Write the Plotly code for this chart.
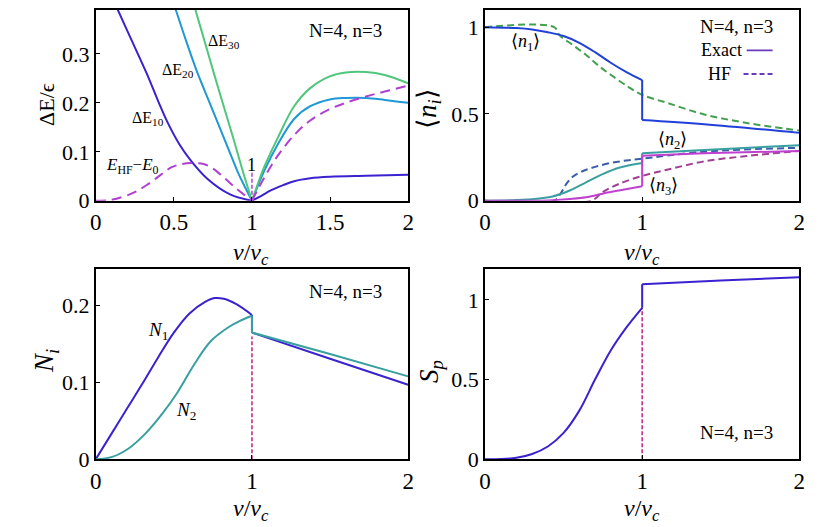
import plotly.graph_objects as go
from plotly.subplots import make_subplots

# ---- panel (a): excitation gaps ----
de10_x_l = [0.10, 0.138, 0.232, 0.326, 0.40, 0.458, 0.536, 0.609, 0.714, 0.86, 1.0]
de10_y_l = [0.419, 0.392, 0.326, 0.260, 0.203, 0.161, 0.115, 0.082, 0.045, 0.013, 0.0]
de10_x_r = [1.0, 1.06, 1.12, 1.2, 1.27, 1.373, 1.5, 1.73, 2.0]
de10_y_r = [0.0, 0.010, 0.021, 0.032, 0.040, 0.046, 0.049, 0.051, 0.053]

de20_x_l = [0.48, 0.51, 0.58, 0.65, 0.72, 0.78, 0.85, 0.91, 0.96, 1.0]
de20_y_l = [0.42, 0.392, 0.325, 0.262, 0.207, 0.160, 0.105, 0.058, 0.025, 0.0]
de20_x_r = [1.0, 1.08, 1.163, 1.27, 1.373, 1.498, 1.6, 1.73, 1.85, 2.0]
de20_y_r = [0.0, 0.062, 0.114, 0.167, 0.193, 0.207, 0.210, 0.210, 0.206, 0.200]

de30_x_l = [0.61, 0.636, 0.70, 0.76, 0.82, 0.88, 0.94, 1.0]
de30_y_l = [0.42, 0.392, 0.322, 0.256, 0.192, 0.128, 0.062, 0.0]
de30_x_r = [1.0, 1.08, 1.163, 1.27, 1.373, 1.498, 1.6, 1.73, 1.85, 2.0]
de30_y_r = [0.0, 0.070, 0.127, 0.193, 0.230, 0.254, 0.262, 0.263, 0.257, 0.240]

hf_x_l = [0.0, 0.1, 0.232, 0.33, 0.42, 0.483, 0.55, 0.61, 0.69, 0.75, 0.818, 0.9, 1.0]
hf_y_l = [0.0, 0.002, 0.015, 0.033, 0.054, 0.068, 0.075, 0.077, 0.075, 0.066, 0.048, 0.025, 0.0]
hf_x_r = [1.0, 1.08, 1.163, 1.27, 1.373, 1.498, 1.6, 1.73, 1.85, 2.0]
hf_y_r = [0.0, 0.048, 0.091, 0.134, 0.164, 0.187, 0.200, 0.213, 0.223, 0.235]
hf_mark_y = [0.0, 0.058]

# ---- panel (b): occupations ----
n1_x_l = [0.0, 0.2, 0.3, 0.4, 0.5, 0.6, 0.7, 0.8, 0.9, 1.0]
n1_y_l = [1.0, 0.995, 0.987, 0.971, 0.949, 0.910, 0.856, 0.795, 0.741, 0.695]
n1_x_r = [1.0, 1.395, 2.0]
n1_y_r = [0.465, 0.441, 0.391]
n1hf_x = [0.0, 0.44, 0.475, 0.559, 0.642, 0.725, 0.809, 0.913, 1.0, 1.165, 1.395, 1.666, 2.0]
n1hf_y = [1.0, 1.0, 0.953, 0.897, 0.841, 0.776, 0.720, 0.655, 0.610, 0.562, 0.497, 0.448, 0.404]

n2_x_l = [0.0, 0.2, 0.33, 0.43, 0.539, 0.643, 0.748, 0.852, 1.0]
n2_y_l = [0.0, 0.004, 0.012, 0.025, 0.059, 0.106, 0.153, 0.190, 0.218]
n2_x_r = [1.0, 1.395, 2.0]
n2_y_r = [0.274, 0.292, 0.320]
n2hf_x = [0.0, 0.44, 0.48, 0.52, 0.56, 0.62, 0.70, 0.80, 0.90, 1.0, 1.395, 2.0]
n2hf_y = [0.0, 0.0, 0.04, 0.10, 0.14, 0.17, 0.195, 0.218, 0.232, 0.242, 0.283, 0.305]

n3_x_l = [0.0, 0.4, 0.539, 0.643, 0.748, 0.852, 1.0]
n3_y_l = [0.0, 0.002, 0.010, 0.020, 0.041, 0.059, 0.084]
n3_x_r = [1.0, 1.395, 2.0]
n3_y_r = [0.260, 0.273, 0.287]
n3hf_x = [0.0, 0.675, 0.748, 0.852, 1.0, 1.165, 1.395, 1.666, 2.0]
n3hf_y = [0.0, 0.0, 0.050, 0.097, 0.143, 0.180, 0.227, 0.258, 0.287]

# ---- panel (c): N_i ----
N1_x_l = [0.0, 0.1, 0.2, 0.3, 0.4, 0.5, 0.6, 0.7, 0.76, 0.82, 0.9, 1.0]
N1_y_l = [0.0, 0.033, 0.066, 0.099, 0.133, 0.165, 0.190, 0.205, 0.210, 0.209, 0.202, 0.188]
N1_x_r = [1.0, 1.5, 2.0]
N1_y_r = [0.165, 0.131, 0.097]
N2_x_l = [0.0, 0.105, 0.21, 0.316, 0.421, 0.526, 0.632, 0.737, 0.842, 0.92, 1.0]
N2_y_l = [0.0, 0.003, 0.014, 0.033, 0.058, 0.088, 0.124, 0.154, 0.171, 0.180, 0.187]
N2_x_r = [1.0, 1.5, 2.0]
N2_y_r = [0.165, 0.137, 0.108]
N_mark_y = [0.0, 0.16]

# ---- panel (d): S_p ----
sp_x_l = [0.0, 0.1, 0.2, 0.3, 0.4, 0.5, 0.6, 0.7, 0.8, 0.9, 1.0]
sp_y_l = [0.0, 0.001, 0.009, 0.033, 0.080, 0.165, 0.305, 0.500, 0.683, 0.828, 0.951]
sp_x_r = [1.0, 1.5, 2.0]
sp_y_r = [1.098, 1.122, 1.143]
sp_mark_y = [0.0, 0.951]

crit_x = [1.0, 1.0]

C_E10 = '#3a22d0'
C_E20 = '#1f98d6'
C_E30 = '#4fc67c'
C_HF = '#b040d4'
C_N1 = '#2040d8'
C_N1HF = '#44a050'
C_N2 = '#3a9fa0'
C_N2HF = '#3a5fa8'
C_N3 = '#c040d0'
C_N3HF = '#a04095'
C_MARK = '#c02080'
C_LEG = '#6a3cbc'

fig = make_subplots(rows=2, cols=2)


def curve(x, y, color, row, col, dash='solid', shape='spline', width=2):
    fig.add_trace(go.Scatter(x=x, y=y, mode='lines', showlegend=False,
                             line=dict(color=color, width=width, dash=dash,
                                       shape=shape, smoothing=1.0)),
                  row=row, col=col)


def jump_curve(xl, yl, xr, yr, color, row, col):
    curve(xl, yl, color, row, col)
    curve([xl[-1], xr[0]], [yl[-1], yr[0]], color, row, col, shape='linear')
    curve(xr, yr, color, row, col)


# (a)
curve(de10_x_l, de10_y_l, C_E10, 1, 1)
curve(de10_x_r, de10_y_r, C_E10, 1, 1)
curve(de20_x_l, de20_y_l, C_E20, 1, 1)
curve(de20_x_r, de20_y_r, C_E20, 1, 1)
curve(de30_x_l, de30_y_l, C_E30, 1, 1)
curve(de30_x_r, de30_y_r, C_E30, 1, 1)
curve(hf_x_l, hf_y_l, C_HF, 1, 1, dash='10px,6px')
curve(hf_x_r, hf_y_r, C_HF, 1, 1, dash='10px,6px')
curve(crit_x, hf_mark_y, C_HF, 1, 1, dash='4px,2px', shape='linear', width=1.5)

# (b)
curve(n1hf_x, n1hf_y, C_N1HF, 1, 2, dash='7px,4px')
curve(n2hf_x, n2hf_y, C_N2HF, 1, 2, dash='7px,4px')
curve(n3hf_x, n3hf_y, C_N3HF, 1, 2, dash='7px,4px')
jump_curve(n1_x_l, n1_y_l, n1_x_r, n1_y_r, C_N1, 1, 2)
jump_curve(n2_x_l, n2_y_l, n2_x_r, n2_y_r, C_N2, 1, 2)
jump_curve(n3_x_l, n3_y_l, n3_x_r, n3_y_r, C_N3, 1, 2)

# (c)
curve(crit_x, N_mark_y, C_MARK, 2, 1, dash='4px,2px', shape='linear', width=1.5)
jump_curve(N1_x_l, N1_y_l, N1_x_r, N1_y_r, C_E10, 2, 1)
jump_curve(N2_x_l, N2_y_l, N2_x_r, N2_y_r, C_N2, 2, 1)

# (d)
curve(crit_x, sp_mark_y, C_MARK, 2, 2, dash='4px,2px', shape='linear', width=1.5)
jump_curve(sp_x_l, sp_y_l, sp_x_r, sp_y_r, C_E10, 2, 2)

FONT = 'Liberation Serif'
axis_common = dict(showline=True, mirror=True, linecolor='black', linewidth=1.6,
                   ticks='inside', ticklen=4, tickcolor='black', showgrid=False,
                   zeroline=False)

xl_dom = [83 / 819, 400 / 819]
xr_dom = [478 / 819, 797 / 819]
yt_dom = [1 - 197 / 527, 1 - 0.8 / 527]
yb_dom = [1 - 462.5 / 527, 1 - 267 / 527]

fig.update_layout(
    xaxis=dict(axis_common, domain=xl_dom, range=[0, 2], tickvals=[0, 0.5, 1, 1.5, 2],
               ticktext=['0', '0.5', '1', '1.5', '2']),
    yaxis=dict(axis_common, domain=yt_dom, range=[0, 0.39], tickvals=[0, 0.1, 0.2, 0.3],
               ticktext=['0', '0.1', '0.2', '0.3']),
    xaxis2=dict(axis_common, domain=xr_dom, range=[0, 2], tickvals=[0, 1, 2],
                ticktext=['0', '1', '2']),
    yaxis2=dict(axis_common, domain=yt_dom, range=[0, 1.1], tickvals=[0, 0.5, 1],
                ticktext=['0', '0.5', '1']),
    xaxis3=dict(axis_common, domain=xl_dom, range=[0, 2], tickvals=[0, 1, 2],
                ticktext=['0', '1', '2']),
    yaxis3=dict(axis_common, domain=yb_dom, range=[0, 0.248], tickvals=[0, 0.1, 0.2],
                ticktext=['0', '0.1', '0.2']),
    xaxis4=dict(axis_common, domain=xr_dom, range=[0, 2], tickvals=[0, 1, 2],
                ticktext=['0', '1', '2']),
    yaxis4=dict(axis_common, domain=yb_dom, range=[0, 1.195], tickvals=[0, 0.5, 1],
                ticktext=['0', '0.5', '1']),
    width=819, height=527,
    margin=dict(l=0, r=0, t=0, b=0),
    paper_bgcolor='white', plot_bgcolor='white',
    font=dict(family=FONT, color='black'),
)
fig.update_xaxes(tickfont=dict(family=FONT, size=23, color='black'))
fig.update_yaxes(tickfont=dict(family=FONT, size=22, color='black'))


def label(text, x, y, ax, xanchor='center', size=16):
    fig.add_annotation(text=text, x=x, y=y, xref='x' + ax, yref='y' + ax,
                       showarrow=False, xanchor=xanchor, yanchor='middle',
                       font=dict(family=FONT, size=size, color='black'))


# in-panel labels
label('ΔE<sub>30</sub>', 0.82, 0.326, '')
label('ΔE<sub>20</sub>', 0.526, 0.267, '')
label('ΔE<sub>10</sub>', 0.337, 0.167, '')
label('<i>E</i><sub>HF</sub>−<i>E</i><sub>0</sub>', 0.232, 0.07, '', size=17)
label('1', 1.0, 0.074, '', size=18)
label('N=4, n=3', 1.6, 0.347, '', size=19)

label('⟨<i>n</i><sub>1</sub>⟩', 0.257, 0.912, '2', size=18)
label('⟨<i>n</i><sub>2</sub>⟩', 1.196, 0.345, '2', size=18)
label('⟨<i>n</i><sub>3</sub>⟩', 1.133, 0.084, '2', size=18)
label('N=4, n=3', 1.6, 1.005, '2', size=19)
label('Exact', 1.645, 0.866, '2', xanchor='right', size=18)
label('HF', 1.58, 0.73, '2', xanchor='right', size=18)
fig.add_shape(type='line', x0=1.665, x1=1.83, y0=0.866, y1=0.866, xref='x2', yref='y2',
              line=dict(color=C_LEG, width=1.8))
fig.add_shape(type='line', x0=1.645, x1=1.84, y0=0.73, y1=0.73, xref='x2', yref='y2',
              line=dict(color=C_LEG, width=1.8, dash='5px,3px'))

label('<i>N</i><sub>1</sub>', 0.4, 0.167, '3', size=19)
label('<i>N</i><sub>2</sub>', 0.58, 0.063, '3', size=19)
label('N=4, n=3', 1.6, 0.218, '3', size=19)

label('N=4, n=3', 1.6, 0.17, '4', size=19)


def paper_text(text, px, py, angle=0, size=22):
    fig.add_annotation(text=text, x=px / 819, y=1 - py / 527, xref='paper', yref='paper',
                       showarrow=False, textangle=angle, xanchor='center', yanchor='middle',
                       font=dict(family=FONT, size=size, color='black'))


xt = '<i>ν</i>/<i>ν</i><sub><i>c</i></sub>'
paper_text(xt, 241, 252, size=24)
paper_text(xt, 637, 252, size=24)
paper_text(xt, 241, 515, size=24)
paper_text(xt, 637, 515, size=24)
paper_text('ΔE/ϵ', 33, 98, angle=-90, size=22)
paper_text('⟨<i>n</i><sub><i>i</i></sub>⟩', 421, 102, angle=-90, size=27)
paper_text('<i>N</i><sub><i>i</i></sub>', 33, 362, angle=-90, size=27)
paper_text('<i>S</i><sub><i>p</i></sub>', 423, 372, angle=-90, size=27)

fig.write_html("out.html")
